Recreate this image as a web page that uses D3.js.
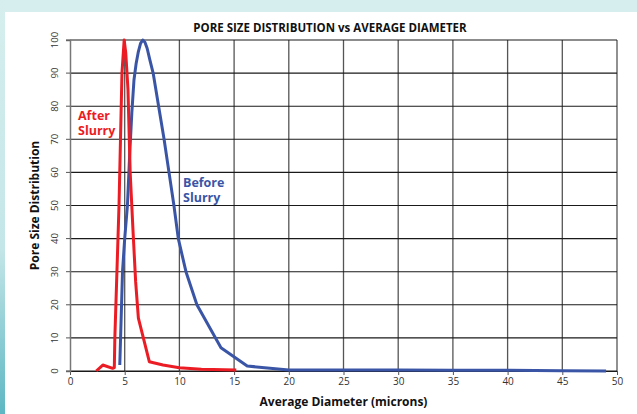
<!DOCTYPE html>
<html>
<head>
<meta charset="utf-8">
<script src="https://cdn.jsdelivr.net/npm/d3@7"></script>
<style>
  body { margin: 0; background: #fff; }
  svg { display: block; font-family: "Open Sans", sans-serif; }
</style>
</head>
<body>
<div id="chart"></div>
<script>
// data
var beforeX = [4.55, 4.8, 5.0, 5.25, 5.45, 5.65, 5.85, 6.05, 6.25, 6.45, 6.65, 6.85, 7.05, 7.3, 7.6, 8.1, 8.6, 9.05, 9.5, 9.9, 10.6, 11.6, 13.8, 16.2, 20, 25, 30, 35, 40, 45, 49];
var beforeY = [1.8, 30, 40, 50, 65, 78, 88, 93, 96.5, 99, 100, 99.3, 97.5, 94, 90, 80, 70, 60, 50, 40, 30, 20, 7, 1.5, 0.3, 0.3, 0.3, 0.2, 0.2, 0.1, 0];

var afterX = [2.4, 3.0, 3.9, 4.05, 4.1, 4.48, 4.75, 4.95, 5.1, 5.3, 5.5, 5.75, 6.0, 6.25, 7.25, 8.5, 10, 12, 15.2];
var afterY = [0, 1.8, 0.8, 1.0, 10, 50, 90, 100, 96, 85, 60, 43, 27, 16, 2.8, 1.8, 1.0, 0.5, 0.3];

var xTicks = [0, 5, 10, 15, 20, 25, 30, 35, 40, 45, 50];
var yTicks = [0, 10, 20, 30, 40, 50, 60, 70, 80, 90, 100];

var W = 637, H = 414;
var margin = { top: 40, right: 20, bottom: 43, left: 70 };

var svg = d3.select("#chart").append("svg")
    .attr("width", W)
    .attr("height", H);

// page decoration: teal band at top and left strip
var grad = svg.append("defs").append("linearGradient")
    .attr("id", "strip").attr("x1", 0).attr("y1", 0).attr("x2", 0).attr("y2", 1);
grad.append("stop").attr("offset", "0%").attr("stop-color", "#d6eeee");
grad.append("stop").attr("offset", "60%").attr("stop-color", "#c4e6e8");
grad.append("stop").attr("offset", "100%").attr("stop-color", "#5db7c3");
svg.append("rect").attr("x", 0).attr("y", 0).attr("width", W).attr("height", 12).attr("fill", "#d6eeee");
svg.append("rect").attr("x", 0).attr("y", 0).attr("width", 5).attr("height", H).attr("fill", "url(#strip)");

var x = d3.scaleLinear().domain([0, 50]).range([margin.left, W - margin.right]);
var y = d3.scaleLinear().domain([0, 100]).range([H - margin.bottom, margin.top]);

// grid
svg.append("g").selectAll("line")
    .data(xTicks.slice(1))
    .enter().append("line")
    .attr("x1", function(d) { return x(d); })
    .attr("x2", function(d) { return x(d); })
    .attr("y1", y(0)).attr("y2", y(100))
    .attr("stroke", "#555").attr("stroke-width", 1.3);
svg.append("g").selectAll("line")
    .data(yTicks)
    .enter().append("line")
    .attr("x1", x(0)).attr("x2", x(50))
    .attr("y1", function(d) { return y(d); })
    .attr("y2", function(d) { return y(d); })
    .attr("stroke", "#1a1a1a").attr("stroke-width", 1.1);

// axes
var xAxis = svg.append("g")
    .attr("transform", "translate(0," + y(0) + ")")
    .call(d3.axisBottom(x).tickValues(xTicks).tickSize(4).tickPadding(3));
xAxis.select(".domain").attr("stroke", "#1a1a1a");
xAxis.selectAll("line").attr("stroke", "#555");
xAxis.selectAll("text").attr("font-size", 10).attr("fill", "#333")
    .attr("font-family", "Open Sans, sans-serif");

var yAxis = svg.append("g")
    .attr("transform", "translate(" + x(0) + ",0)")
    .call(d3.axisLeft(y).tickValues(yTicks).tickSize(4).tickPadding(3));
yAxis.select(".domain").attr("stroke", "#777").attr("stroke-width", 1.5);
yAxis.selectAll("line").attr("stroke", "#555");
yAxis.selectAll("text")
    .attr("font-size", 9.5).attr("fill", "#333")
    .attr("font-family", "Open Sans, sans-serif")
    .attr("text-anchor", "middle")
    .attr("dy", 0)
    .attr("transform", function(d) { return "translate(-12," + y(d) + ") rotate(-90)"; })
    .attr("x", 0).attr("y", 0);
yAxis.selectAll(".tick").attr("transform", null);
yAxis.selectAll(".tick line")
    .attr("y1", function(d) { return y(d); })
    .attr("y2", function(d) { return y(d); });

// lines
var line = d3.line()
    .x(function(d) { return x(d[0]); })
    .y(function(d) { return y(d[1]); });

svg.append("path")
    .datum(d3.zip(beforeX, beforeY))
    .attr("d", line)
    .attr("fill", "none")
    .attr("stroke", "#3a55a6")
    .attr("stroke-width", 3)
    .attr("stroke-linejoin", "round");

svg.append("path")
    .datum(d3.zip(afterX, afterY))
    .attr("d", line)
    .attr("fill", "none")
    .attr("stroke", "#ec1c24")
    .attr("stroke-width", 3)
    .attr("stroke-linejoin", "round");

// titles
svg.append("text")
    .attr("x", 330).attr("y", 32)
    .attr("text-anchor", "middle")
    .attr("font-size", 11.5).attr("font-weight", "bold").attr("fill", "#111")
    .text("PORE SIZE DISTRIBUTION vs AVERAGE DIAMETER");

svg.append("text")
    .attr("x", (x(0) + x(50)) / 2).attr("y", 406)
    .attr("text-anchor", "middle")
    .attr("font-size", 12).attr("font-weight", "bold").attr("fill", "#111")
    .text("Average Diameter (microns)");

svg.append("text")
    .attr("transform", "translate(39," + y(50) + ") rotate(-90)")
    .attr("text-anchor", "middle")
    .attr("font-size", 12).attr("font-weight", "bold").attr("fill", "#111")
    .text("Pore Size Distribution");

// series labels, one text per line
svg.append("text").attr("x", 78).attr("y", 120)
    .attr("font-size", 12.5).attr("font-weight", "bold").attr("fill", "#ec1c24").text("After");
svg.append("text").attr("x", 78).attr("y", 135)
    .attr("font-size", 12.5).attr("font-weight", "bold").attr("fill", "#ec1c24").text("Slurry");
svg.append("text").attr("x", 183).attr("y", 187)
    .attr("font-size", 12.5).attr("font-weight", "bold").attr("fill", "#3a55a6").text("Before");
svg.append("text").attr("x", 183).attr("y", 202)
    .attr("font-size", 12.5).attr("font-weight", "bold").attr("fill", "#3a55a6").text("Slurry");
</script>
</body>
</html>
